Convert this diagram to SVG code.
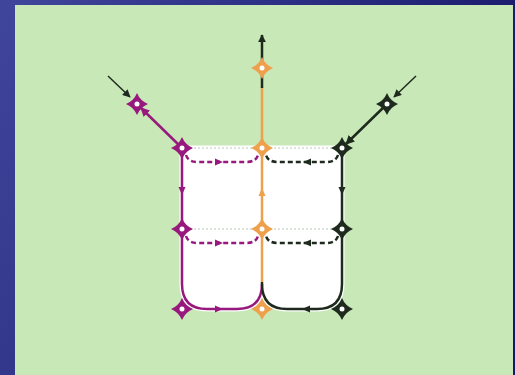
<svg xmlns="http://www.w3.org/2000/svg" width="515" height="375" viewBox="0 0 515 375">
<defs>
<linearGradient id="bg" x1="0" y1="0" x2="1" y2="0.35">
<stop offset="0" stop-color="#40469c"/>
<stop offset="1" stop-color="#18186a"/>
</linearGradient>
<path id="star" d="M0,-11 Q3.2,-3.2 11,0 Q3.2,3.2 0,11 Q-3.2,3.2 -11,0 Q-3.2,-3.2 0,-11 Z"/>
<path id="ah" d="M-4,-3.5 L4,0 L-4,3.5 Z"/>
<marker id="mk" viewBox="0 0 10 10" refX="9" refY="5" markerWidth="8" markerHeight="8" markerUnits="userSpaceOnUse" orient="auto"><path d="M0,0 L10,5 L0,10 Z" fill="#1e2a1e"/></marker>
<marker id="mkm" viewBox="0 0 10 10" refX="9" refY="5" markerWidth="9" markerHeight="9" markerUnits="userSpaceOnUse" orient="auto"><path d="M0,0 L10,5 L0,10 Z" fill="#98197e"/></marker>
<marker id="mkb" viewBox="0 0 10 10" refX="9" refY="5" markerWidth="9" markerHeight="9" markerUnits="userSpaceOnUse" orient="auto"><path d="M0,0 L10,5 L0,10 Z" fill="#1e2a1e"/></marker>
</defs>
<style>
.m{stroke:#98197e;fill:none;stroke-width:2.5}
.o{stroke:#eea04c;fill:none;stroke-width:2.5}
.k{stroke:#1e2a1e;fill:none;stroke-width:2.5}
.thin{stroke:#1e2a1e;fill:none;stroke-width:1.5}
.dash{stroke-dasharray:5,3;stroke-width:2.5}
.dot{stroke:#b8c8b8;stroke-width:1;stroke-dasharray:2,2;fill:none}
.sm{fill:#98197e}.so{fill:#eea04c}.sk{fill:#1e2a1e}
.c{fill:#fff}
</style>
<rect width="515" height="375" fill="url(#bg)"/>
<rect x="15" y="5" width="498" height="370" fill="#c8e8b8"/>
<path d="M182,148 H342 V284 Q342,309 317,309 H287 Q262,309 262,284 Q262,309 237,309 H207 Q182,309 182,284 Z" fill="#fff" stroke="#fff" stroke-width="5"/>
<g id="connectors">
<line class="dot" x1="182" y1="148" x2="342" y2="148"/>
<line class="dot" x1="182" y1="229" x2="342" y2="229"/>
<path class="m dash" d="M186,155 Q188,162 198,162 H246 Q256,162 258,155"/>
<path class="k dash" d="M338,155 Q336,162 326,162 H278 Q268,162 266,155"/>
<path class="m dash" d="M186,236 Q188,243 198,243 H246 Q256,243 258,236"/>
<path class="k dash" d="M338,236 Q336,243 326,243 H278 Q268,243 266,236"/>
<path class="m" d="M182,148 V284 Q182,309 207,309 H237 Q262,309 262,284"/>
<path class="k" d="M342,148 V284 Q342,309 317,309 H287 Q262,309 262,284 V282"/>
<line class="o" x1="262" y1="282" x2="262" y2="87"/>
<line class="k" x1="262" y1="88" x2="262" y2="35" stroke-width="1.8" marker-end="url(#mk)"/>
<line class="m" x1="182" y1="148" x2="141" y2="108" marker-end="url(#mkm)"/>
<line class="k" x1="387" y1="104" x2="346" y2="144" marker-end="url(#mkb)"/>
<line class="thin" x1="108" y1="76" x2="130" y2="97" marker-end="url(#mk)"/>
<line class="thin" x1="416" y1="76" x2="394" y2="97" marker-end="url(#mk)"/>
<use href="#ah" class="sm" transform="translate(182,191) rotate(90)"/>
<use href="#ah" class="so" transform="translate(262,192) rotate(-90)"/>
<use href="#ah" class="sk" transform="translate(342,191) rotate(90)"/>
<use href="#ah" class="sm" transform="translate(219,309)"/>
<use href="#ah" class="sk" transform="translate(306,309) rotate(180)"/>
<use href="#ah" class="sm" transform="translate(219,162)"/>
<use href="#ah" class="sk" transform="translate(307,162) rotate(180)"/>
<use href="#ah" class="sm" transform="translate(219,243)"/>
<use href="#ah" class="sk" transform="translate(307,243) rotate(180)"/>
</g>
<g id="n-m0" transform="translate(137,104)"><use href="#star" class="sm"/><circle class="c" r="2.5"/></g>
<g id="n-m1" transform="translate(182,148)"><use href="#star" class="sm"/><circle class="c" r="2.5"/></g>
<g id="n-m2" transform="translate(182,229)"><use href="#star" class="sm"/><circle class="c" r="2.5"/></g>
<g id="n-m3" transform="translate(182,309)"><use href="#star" class="sm"/><circle class="c" r="2.5"/></g>
<g id="n-o0" transform="translate(262,68)"><use href="#star" class="so"/><circle class="c" r="2.5"/></g>
<g id="n-o1" transform="translate(262,148)"><use href="#star" class="so"/><circle class="c" r="2.5"/></g>
<g id="n-o2" transform="translate(262,229)"><use href="#star" class="so"/><circle class="c" r="2.5"/></g>
<g id="n-o3" transform="translate(262,309)"><use href="#star" class="so"/><circle class="c" r="2.5"/></g>
<g id="n-k0" transform="translate(387,104)"><use href="#star" class="sk"/><circle class="c" r="2.5"/></g>
<g id="n-k1" transform="translate(342,148)"><use href="#star" class="sk"/><circle class="c" r="2.5"/></g>
<g id="n-k2" transform="translate(342,229)"><use href="#star" class="sk"/><circle class="c" r="2.5"/></g>
<g id="n-k3" transform="translate(342,309)"><use href="#star" class="sk"/><circle class="c" r="2.5"/></g>
</svg>
